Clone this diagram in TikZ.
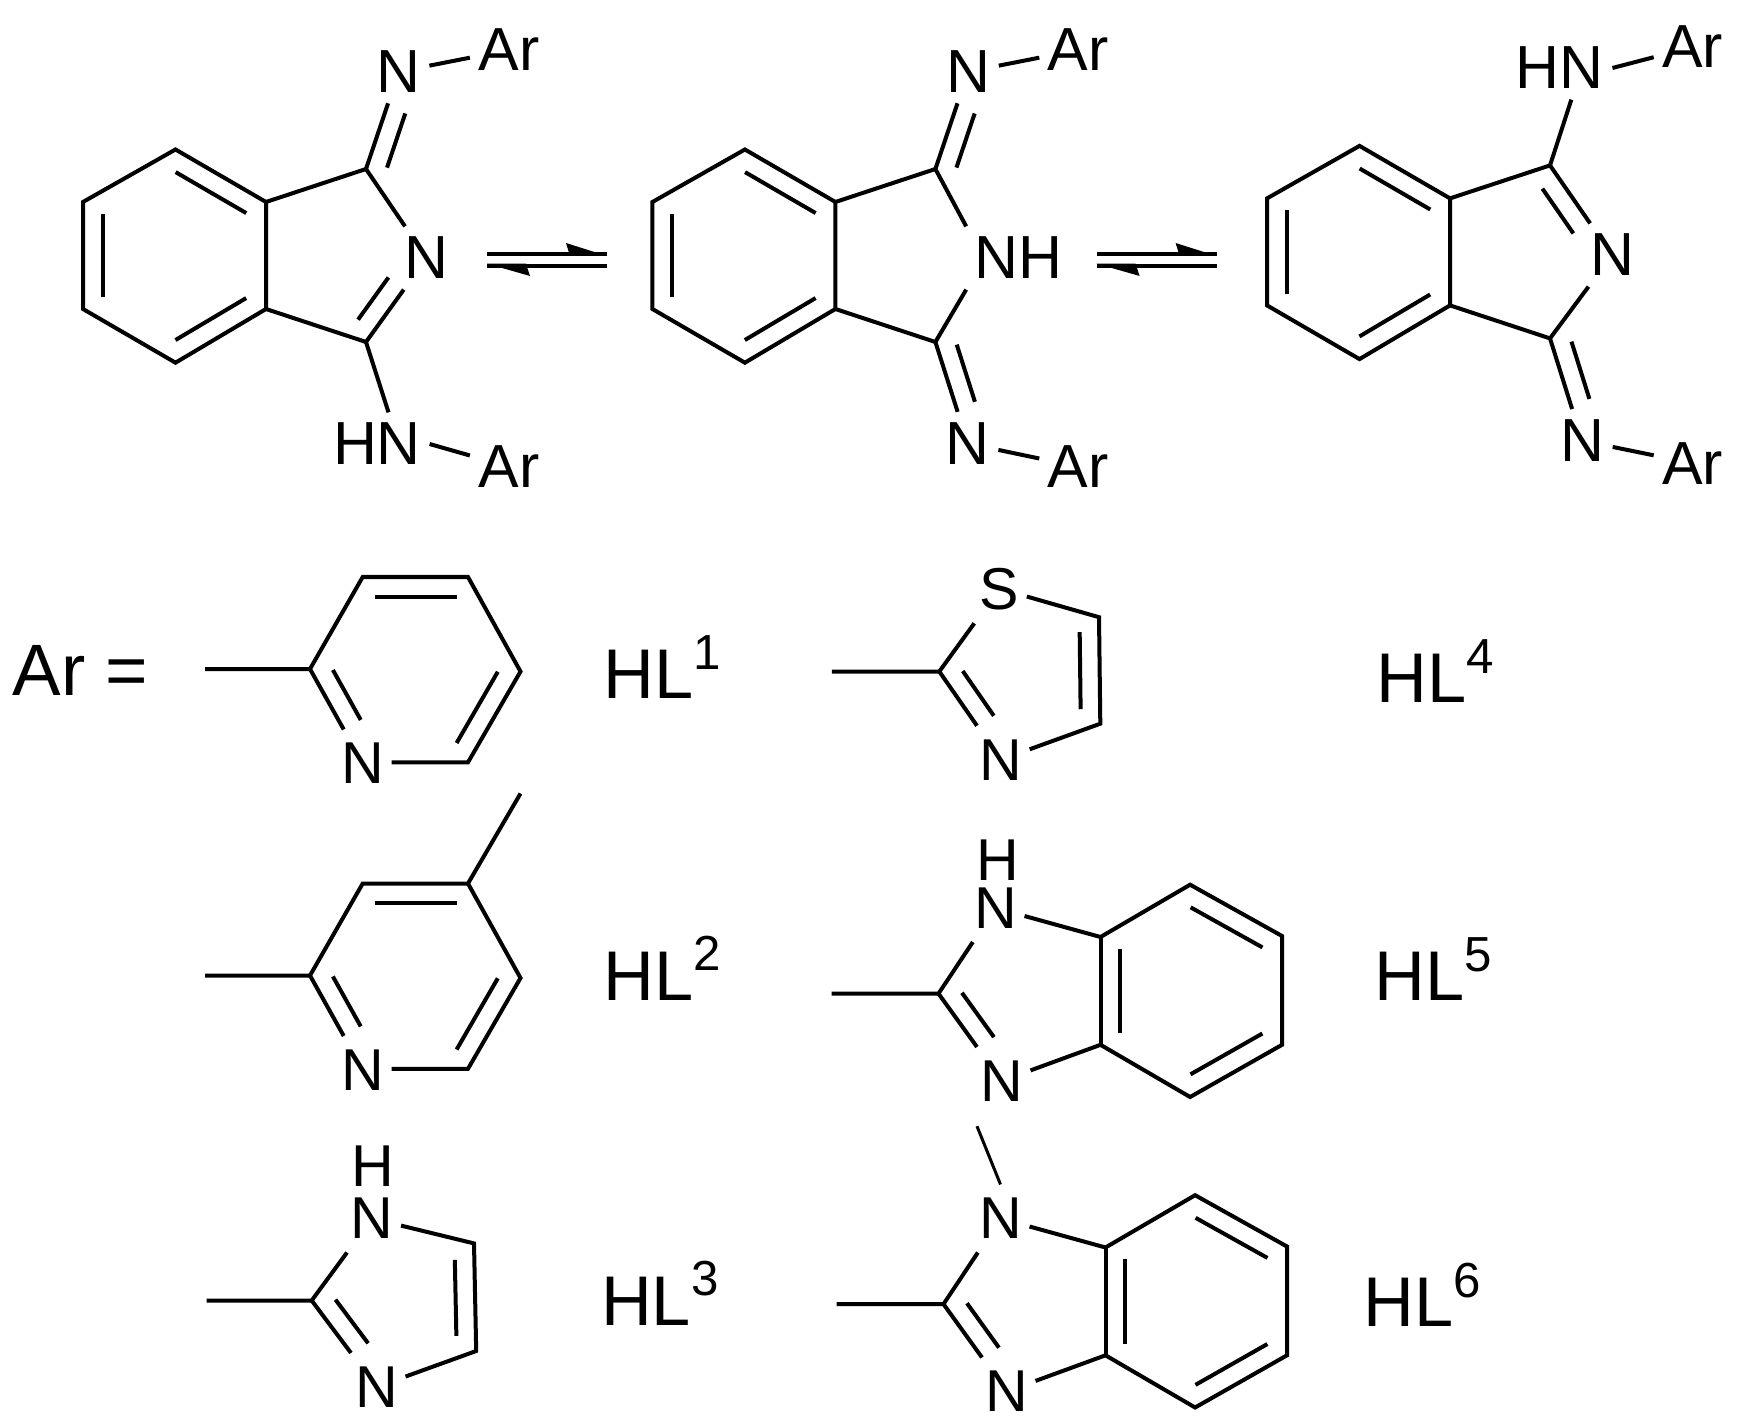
\documentclass[tikz,border=0pt]{standalone}
\usepackage{fontspec}
\usepackage{tikz}
\usetikzlibrary{calc}
\setmainfont{Liberation Sans}

\newcommand{\atomfont}{\fontsize{17.3pt}{20pt}\selectfont}
\newcommand{\ligfont}{\fontsize{16.8pt}{20pt}\selectfont}
\newcommand{\namefont}{\fontsize{20pt}{24pt}\selectfont}
\newcommand{\hlabel}[1]{HL\raisebox{0.29cm}{\fontsize{14pt}{16pt}\selectfont #1}}

\tikzset{
  atom/.style={font=\atomfont,inner xsep=0.08cm,inner ysep=0.10cm},
  ligatom/.style={font=\ligfont,inner xsep=0.07cm,inner ysep=0.13cm},
  ligname/.style={font=\namefont,anchor=base west,inner sep=0pt},
  bond/.style={line width=0.04cm}
}

% second line of a double bond: from, to, side, cut at start, cut at end
\newcommand{\dbline}[5]{\draw[bond,shorten <=#4cm,shorten >=#5cm]
  ($(#1)!0.195cm!#3:(#2)$) -- ($(#2)!-0.195cm!#3:(#1)$);}

\newcommand{\isoring}{
  \coordinate (r1) at (175.5,149.5);
  \coordinate (r2) at (266,202);
  \coordinate (r3) at (266,309);
  \coordinate (r4) at (175.5,362.7);
  \coordinate (r5) at (83,309);
  \coordinate (r6) at (83,202);
  \coordinate (c1) at (366,169);
  \coordinate (c3) at (366,342);
  \draw[bond] (r1) -- (r2) -- (r3) -- (r4) -- (r5) -- (r6) -- cycle;
  \draw[bond] (r2) -- (c1);
  \draw[bond] (r3) -- (c3);
  \dbline{r1}{r2}{-90}{0.115}{0.115}
  \dbline{r3}{r4}{-90}{0.115}{0.115}
  \dbline{r5}{r6}{-90}{0.115}{0.115}
}

\newcommand{\equil}[1]{
  \begin{scope}[shift={(#1,0)}]
    \coordinate (eql) at (0,254);
    \coordinate (eqr) at (120,254);
    \coordinate (eqs) at (0,265.7);
    \coordinate (eqt) at (120,265.7);
    \draw[line width=0.04cm] (eql) -- (eqr);
    \draw[line width=0.04cm] (eqs) -- (eqt);
    \fill (120,256) -- (79,243) -- (83,256) -- cycle;
    \fill (0,263.7) -- (43,276) -- (39,263.7) -- cycle;
  \end{scope}
}

\newcommand{\pyridyl}{
  \coordinate (st) at (205,670);
  \coordinate (c2) at (310,670);
  \coordinate (tl) at (362.7,578);
  \coordinate (tr) at (468,578);
  \coordinate (rt) at (520.5,672.5);
  \coordinate (br) at (468,763.3);
  \node[ligatom] (n) at (362.7,764.5) {N};
  \draw[bond] (st) -- (c2) -- (tl) -- (tr) -- (rt) -- (br) -- (n.east |- br);
  \draw[bond] (c2) -- (n);
  \dbline{tl}{tr}{-90}{0.127}{0.112}
  \dbline{rt}{br}{-90}{0.116}{0.11}
  \dbline{n}{c2}{-90}{0.39}{0.12}
}

\newcommand{\benzimid}{
  \coordinate (st) at (833,995.6);
  \coordinate (c2) at (940,995.6);
  \coordinate (ca) at (1102,939);
  \coordinate (bt) at (1191.6,886.7);
  \coordinate (bu) at (1283.5,938);
  \coordinate (bv) at (1283.5,1046.8);
  \coordinate (bb) at (1191.6,1099);
  \coordinate (cb) at (1102,1046.8);
  \node[ligatom] (nu) at (997,910) {N};
  \node[ligatom] (nl) at (1003,1083) {N};
  \draw[bond] (st) -- (c2) -- (nu) -- (ca) -- (bt) -- (bu) -- (bv) -- (bb) -- (cb) -- (nl);
  \draw[bond] (ca) -- (cb);
  \draw[bond] (c2) -- (nl);
  \dbline{nl}{c2}{-90}{0.40}{0.13}
  \dbline{ca}{cb}{90}{0.117}{0.117}
  \dbline{bt}{bu}{-90}{0.115}{0.115}
  \dbline{bv}{bb}{-90}{0.115}{0.115}
}

\begin{document}
\begin{tikzpicture}[x=0.01cm,y=-0.01cm]
\useasboundingbox (0,0) rectangle (1737,1428);

\begin{scope}[name prefix=a-]
\isoring
\node[atom] (nt) at (398.7,71.7) {N};
\node[atom] (art) at (509,50) {Ar};
\node[atom] (nm) at (426.5,258) {N};
\node[atom] (hnb) at (377,444) {HN};
\node[atom] (arb) at (509,466.7) {Ar};
\draw[bond] (c1) -- (nt);
\dbline{c1}{nt}{-90}{0.08}{0.375}
\draw[bond] (nt) -- (art);
\draw[bond] (c1) -- (nm);
\draw[bond] (c3) -- (nm);
\dbline{c3}{nm}{90}{0.135}{0.38}
\draw[bond] (c3) -- (hnb.70);
\draw[bond] (hnb.east) -- (arb);
\end{scope}

\equil{487}

\begin{scope}[shift={(569.4,0)},name prefix=b-]
\isoring
\node[atom] (nt) at (398.7,71.7) {N};
\node[atom] (art) at (509,50) {Ar};
\node[atom] (nhm) at (449.4,258) {NH};
\node[atom] (nb) at (398.3,443.5) {N};
\node[atom] (arb) at (509,466.7) {Ar};
\draw[bond] (c1) -- (nt);
\dbline{c1}{nt}{-90}{0.08}{0.375}
\draw[bond] (nt) -- (art);
\draw[bond] (c1) -- (nhm.north west);
\draw[bond] (c3) -- (nhm.south west);
\draw[bond] (c3) -- (nb);
\dbline{c3}{nb}{90}{0.09}{0.375}
\draw[bond] (nb) -- (arb);
\end{scope}

\equil{1096.6}

\begin{scope}[shift={(1184,-3.6)},name prefix=c-]
\isoring
\node[atom] (hnt) at (375.8,71.6) {HN};
\node[atom] (art) at (508.8,50.6) {Ar};
\node[atom] (nm) at (428,258.6) {N};
\node[atom] (nb) at (398,444.3) {N};
\node[atom] (arb) at (508.8,466.9) {Ar};
\draw[bond] (c1) -- (hnt.-70);
\draw[bond] (hnt.east) -- (art);
\draw[bond] (c1) -- (nm);
\dbline{c1}{nm}{-90}{0.148}{0.397}
\draw[bond] (c3) -- (nm);
\draw[bond] (c3) -- (nb);
\dbline{c3}{nb}{90}{0.095}{0.377}
\draw[bond] (nb) -- (arb);
\end{scope}

\node[ligname] (arlabel) at (12,695.5) {\fontsize{20.7pt}{24pt}\selectfont Ar =};

\begin{scope}[shift={(0,-1)},name prefix=l1-]
\pyridyl
\end{scope}
\begin{scope}[shift={(0,305.5)},name prefix=l2-]
\pyridyl
\coordinate (me) at (520.5,488);
\draw[bond] (tr) -- (me);
\end{scope}

\coordinate (l3st) at (206.5,1300.5);
\coordinate (l3c2) at (311.7,1300.5);
\coordinate (l3c5) at (474,1243.4);
\coordinate (l3c4) at (476.2,1351);
\node[ligatom] (l3nh) at (372,1218.5) {N};
\node[ligatom,inner ysep=0pt] (l3h) at (372.6,1166) {H};
\node[ligatom] (l3n) at (376.5,1387) {N};
\draw[bond] (l3st) -- (l3c2) -- (l3nh);
\draw[bond] (l3nh) -- (l3c5) -- (l3c4) -- (l3n);
\draw[bond] (l3c2) -- (l3n);
\dbline{l3n}{l3c2}{-90}{0.40}{0.135}
\dbline{l3c5}{l3c4}{-90}{0.16}{0.155}

\coordinate (l4st) at (831.8,671.5);
\coordinate (l4c2) at (939.3,671.5);
\coordinate (l4c5) at (1099,617.2);
\coordinate (l4c4) at (1100.3,723.7);
\node[ligatom] (l4s) at (999.4,588.7) {S};
\node[ligatom] (l4n) at (1000.6,759.8) {N};
\draw[bond] (l4st) -- (l4c2) -- (l4s);
\draw[bond] (l4s) -- (l4c5) -- (l4c4) -- (l4n);
\draw[bond] (l4c2) -- (l4n);
\dbline{l4n}{l4c2}{-90}{0.40}{0.13}
\dbline{l4c5}{l4c4}{-90}{0.146}{0.147}

\begin{scope}[shift={(-1.5,-2)},name prefix=l5-]
\benzimid
\node[ligatom,inner ysep=0pt] (h) at (999.5,862.5) {H};
\end{scope}
\begin{scope}[shift={(3.5,308.5)},name prefix=l6-]
\benzimid
\end{scope}
\draw[line width=0.03cm,shorten <=0.12cm] (l5-nl.south west) -- (l6-nu.north);

\node[ligname] (hl1) at (603,698.5) {\hlabel{1}};
\node[ligname] (hl2) at (603,1000) {\hlabel{2}};
\node[ligname] (hl3) at (600.5,1325) {\hlabel{3}};
\node[ligname] (hl4) at (1376,702.5) {\hlabel{4}};
\node[ligname] (hl5) at (1373.5,1000.5) {\hlabel{5}};
\node[ligname] (hl6) at (1362.5,1326.5) {\hlabel{6}};
\end{tikzpicture}
\end{document}
